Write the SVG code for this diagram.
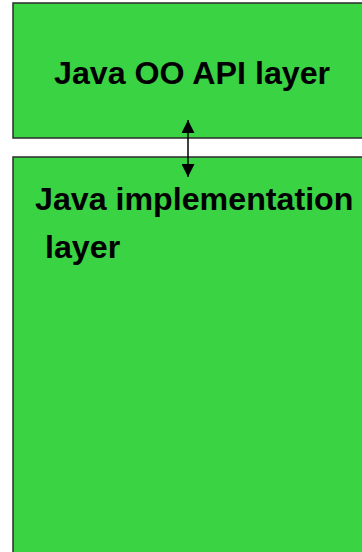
<svg xmlns="http://www.w3.org/2000/svg" width="362" height="552" viewBox="0 0 362 552">
  <style>
    .layer { fill: #3ad344; stroke: #2b2b2b; stroke-width: 1.5; }
    .label { font-family: "Liberation Sans", Arial, sans-serif; font-weight: bold; font-size: 32.2px; fill: #000; }
    .link { stroke: #000; stroke-width: 1.5; fill: none; }
  </style>
  <defs>
    <marker id="head" viewBox="0 0 10 10" refX="10" refY="5" markerWidth="13" markerHeight="13" markerUnits="userSpaceOnUse" orient="auto-start-reverse">
      <path d="M0,0 L10,5 L0,10 z" fill="#000"/>
    </marker>
  </defs>

  <g id="api-layer">
    <rect class="layer" x="13" y="3" width="360" height="135"/>
    <text class="label" x="54" y="83.5">Java OO API layer</text>
  </g>

  <g id="implementation-layer">
    <rect class="layer" x="13" y="157" width="360" height="400"/>
    <text class="label" x="35" y="210">Java implementation</text>
    <text class="label" x="45" y="258">layer</text>
  </g>

  <g id="connectors">
    <line class="link" x1="188" y1="120" x2="188" y2="177" marker-start="url(#head)" marker-end="url(#head)"/>
  </g>
</svg>
